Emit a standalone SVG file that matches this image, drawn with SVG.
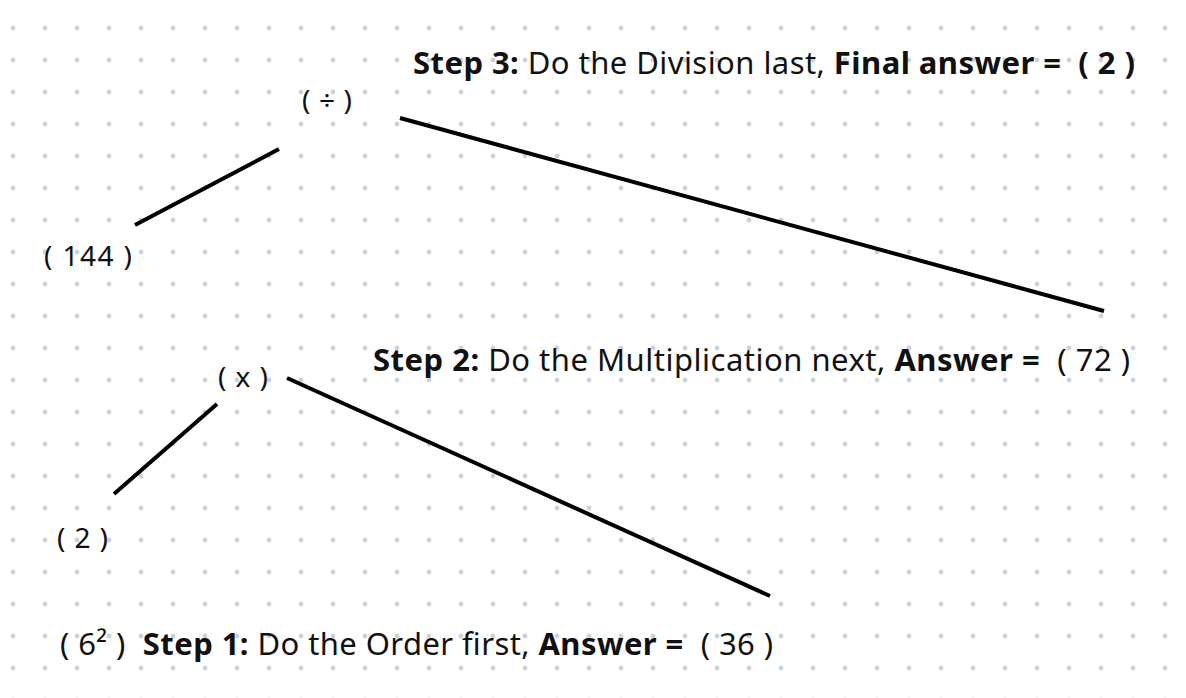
<svg xmlns="http://www.w3.org/2000/svg" width="1186" height="698" viewBox="0 0 1186 698">
<defs>
<pattern id="dots" x="13" y="28" width="32" height="32" patternUnits="userSpaceOnUse">
<circle cx="0" cy="0" r="2.4" fill="#cdd2da"/>
<circle cx="32" cy="0" r="2.4" fill="#cdd2da"/>
<circle cx="0" cy="32" r="2.4" fill="#cdd2da"/>
<circle cx="32" cy="32" r="2.4" fill="#cdd2da"/>
</pattern>
</defs>
<style>
text { font-family: "Noto Sans", "Open Sans", sans-serif; fill: #111; white-space: pre; }
.b { font-weight: bold; }
.step { font-size: 31px; }
.node { font-size: 28px; }
.edge { stroke: #000; stroke-width: 4; fill: none; }
</style>
<rect width="1186" height="698" fill="#fff"/>
<rect width="1186" height="698" fill="url(#dots)"/>
<g id="connectors">
<line class="edge" x1="135" y1="225" x2="279" y2="149"/>
<line class="edge" x1="400" y1="118" x2="1104" y2="311"/>
<line class="edge" x1="114" y1="494" x2="217" y2="404"/>
<line class="edge" x1="287" y1="378" x2="770" y2="596"/>
</g>
<g id="node-div"><text class="node" x="302" y="110" textLength="50">( ÷ )</text></g>
<g id="node-144"><text class="node" x="44" y="266" textLength="88">( 144 )</text></g>
<g id="node-x"><text class="node" x="218" y="387" textLength="50">( x )</text></g>
<g id="node-2"><text class="node" x="57" y="548" textLength="51">( 2 )</text></g>
<g id="step3"><text class="step" x="413" y="74" textLength="722"><tspan class="b">Step 3:</tspan> Do the Division last, <tspan class="b">Final answer =  ( 2 )</tspan></text></g>
<g id="step2"><text class="step" x="373" y="371" textLength="757"><tspan class="b">Step 2:</tspan> Do the Multiplication next, <tspan class="b">Answer = </tspan> ( 72 )</text></g>
<g id="step1"><text class="step" x="60" y="655" textLength="713">( 6² )  <tspan class="b">Step 1:</tspan> Do the Order first, <tspan class="b">Answer = </tspan> ( 36 )</text></g>
</svg>
